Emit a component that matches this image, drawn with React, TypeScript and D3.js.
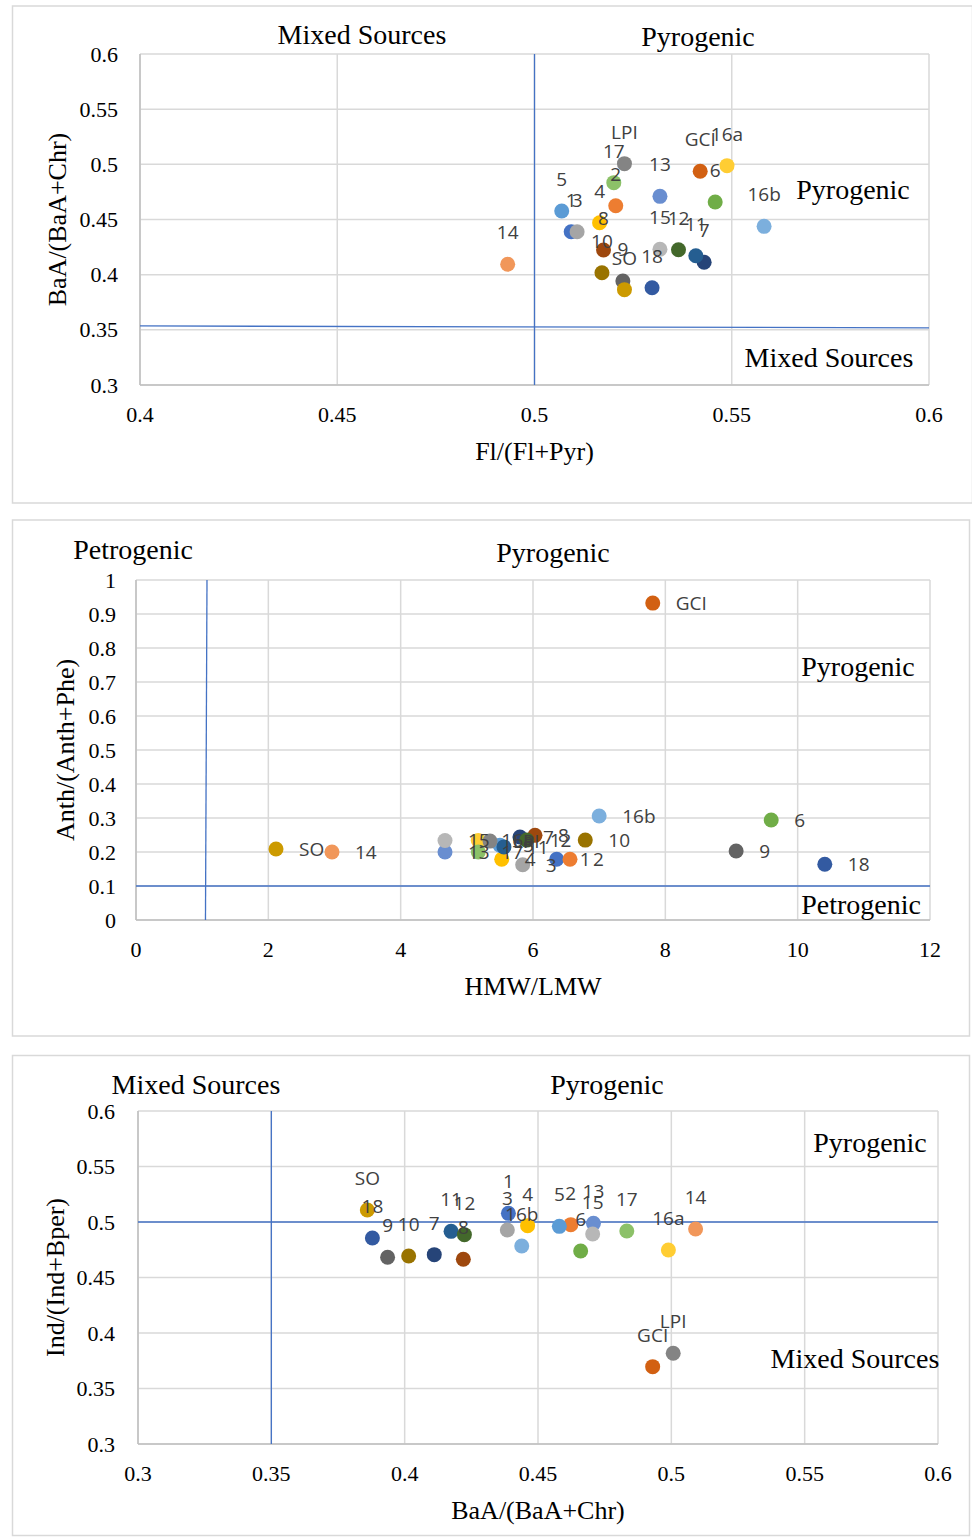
import React from 'react';
import * as d3 from 'd3';

const names = ['1','2','3','4','5','6','7','8','9','10','11','12','13','14','15','16a','16b','17','18','GCI','LPI','SO'];
const colors = ['#4472C4','#ED7D31','#A5A5A5','#FFC000','#5B9BD5','#70AD47','#264478','#9E480E','#636363','#997300','#255E91','#43682B','#698ED0','#F1975A','#B7B7B7','#FFCD33','#7CAFDD','#8CC168','#335AA1','#D26012','#848484','#CC9A00'];

// Panel 1: Fl/(Fl+Pyr) vs BaA/(BaA+Chr)
const flPyr = [0.5093,0.5206,0.5108,0.5165,0.5069,0.5458,0.5430,0.5175,0.5224,0.5171,0.5409,0.5365,0.5318,0.4932,0.5318,0.5488,0.5582,0.5201,0.5298,0.5420,0.5228,0.5228];
const baaChrA = [0.4389,0.4625,0.4389,0.4471,0.4577,0.4659,0.4112,0.4224,0.3943,0.4018,0.4172,0.4226,0.4710,0.4094,0.4230,0.4988,0.4438,0.4834,0.3882,0.4937,0.5006,0.3864];

// Panel 2: HMW/LMW vs Anth/(Anth+Phe)
const hmwLmw = [6.358,6.559,5.844,5.527,5.50,9.60,5.803,6.03,9.07,6.79,5.561,5.905,4.67,2.962,4.67,5.173,7.00,5.173,10.41,7.81,5.35,2.116];
const anthPhe = [0.1785,0.1785,0.1626,0.1785,0.22,0.294,0.244,0.249,0.203,0.235,0.215,0.235,0.20,0.20,0.234,0.234,0.306,0.20,0.164,0.932,0.232,0.209];

// Panel 3: BaA/(BaA+Chr) vs Ind/(Ind+Bper)
const baaChrB = [0.4389,0.4623,0.4385,0.4461,0.4580,0.4660,0.4111,0.4220,0.3936,0.4015,0.4174,0.4224,0.4708,0.5091,0.4705,0.4989,0.4439,0.4833,0.3879,0.4930,0.5007,0.3860];
const indBper = [0.5078,0.4976,0.4928,0.4967,0.4961,0.4739,0.4706,0.4664,0.4682,0.4694,0.4916,0.4886,0.4988,0.4937,0.4892,0.4748,0.4784,0.4919,0.4856,0.3697,0.3817,0.5108];

const ticks1X = [0.4,0.45,0.5,0.55,0.6];
const ticks1Y = [0.3,0.35,0.4,0.45,0.5,0.55,0.6];
const ticks2X = [0,2,4,6,8,10,12];
const ticks2Y = [0,0.1,0.2,0.3,0.4,0.5,0.6,0.7,0.8,0.9,1];
const ticks3X = [0.3,0.35,0.4,0.45,0.5,0.55,0.6];
const ticks3Y = [0.3,0.35,0.4,0.45,0.5,0.55,0.6];

// reference lines [x1,y1,x2,y2] in data units
const ref1 = [[0.5,0.3,0.5,0.6],[0.4,0.3535,0.6,0.3518]];
const ref2 = [[1.073,1,1.05,0],[0,0.1,12,0.1]];
const ref3 = [[0.35,0.3,0.35,0.6],[0.3,0.5,0.6,0.5]];

const SERIF = '"Liberation Serif", "Times New Roman", serif';
const SANS = '"Open Sans", "Noto Sans", sans-serif';

type Ann = { t: string; x: number; y: number };
type PanelProps = {
  frame: [number, number, number, number];
  plot: { l: number; t: number; r: number; b: number };
  xDomain: [number, number];
  yDomain: [number, number];
  xTicks: number[];
  yTicks: number[];
  xs: number[];
  ys: number[];
  refs: number[][];
  labelRight: boolean;
  anns: Ann[];
  xTitle: string;
  yTitle: string;
  yTitleX: number;
  yTickGap: number;
};

function Panel(p: PanelProps) {
  const x = d3.scaleLinear().domain(p.xDomain).range([p.plot.l, p.plot.r]);
  const y = d3.scaleLinear().domain(p.yDomain).range([p.plot.b, p.plot.t]);
  const [fx, fy, fw, fh] = p.frame;
  const midY = (p.plot.t + p.plot.b) / 2;
  const midX = (p.plot.l + p.plot.r) / 2;
  return (
    <g>
      <rect x={fx} y={fy} width={fw} height={fh} fill="#fff" stroke="#D9D9D9" strokeWidth={1.5} />
      {p.yTicks.map((t, i) => (
        <line key={'gy' + i} x1={p.plot.l} x2={p.plot.r} y1={y(t)} y2={y(t)} stroke="#D9D9D9" strokeWidth={1.5} />
      ))}
      {p.xTicks.map((t, i) => (
        <line key={'gx' + i} x1={x(t)} x2={x(t)} y1={p.plot.t} y2={p.plot.b} stroke="#D9D9D9" strokeWidth={1.5} />
      ))}
      <line x1={p.plot.l} x2={p.plot.l} y1={p.plot.t} y2={p.plot.b} stroke="#BFBFBF" strokeWidth={1.5} />
      <line x1={p.plot.l} x2={p.plot.r} y1={p.plot.b} y2={p.plot.b} stroke="#BFBFBF" strokeWidth={1.5} />
      {p.yTicks.map((t, i) => (
        <text key={'ty' + i} x={p.plot.l - p.yTickGap} y={y(t)} textAnchor="end" dominantBaseline="central" fontFamily={SERIF} fontSize={22} fill="#000">{String(t)}</text>
      ))}
      {p.xTicks.map((t, i) => (
        <text key={'tx' + i} x={x(t)} y={p.plot.b + 29} textAnchor="middle" dominantBaseline="central" fontFamily={SERIF} fontSize={22} fill="#000">{String(t)}</text>
      ))}
      <text x={midX} y={p.plot.b + 66} textAnchor="middle" dominantBaseline="central" fontFamily={SERIF} fontSize={26} fill="#000">{p.xTitle}</text>
      <text transform={`translate(${p.yTitleX},${midY}) rotate(-90)`} textAnchor="middle" dominantBaseline="central" fontFamily={SERIF} fontSize={26} fill="#000">{p.yTitle}</text>
      {p.refs.map((r, i) => (
        <line key={'r' + i} x1={x(r[0])} y1={y(r[1])} x2={x(r[2])} y2={y(r[3])} stroke="#4472C4" strokeWidth={1.3} />
      ))}
      {p.xs.map((v, i) => (
        <circle key={'c' + i} cx={x(v)} cy={y(p.ys[i])} r={7.5} fill={colors[i]} />
      ))}
      {p.xs.map((v, i) =>
        p.labelRight ? (
          <text key={'l' + i} x={x(v) + 23} y={y(p.ys[i])} textAnchor="start" dominantBaseline="central" fontFamily={SANS} fontSize={19} fill="#404040">{names[i]}</text>
        ) : (
          <text key={'l' + i} x={x(v)} y={y(p.ys[i]) - 32} textAnchor="middle" dominantBaseline="central" fontFamily={SANS} fontSize={19} fill="#404040">{names[i]}</text>
        )
      )}
      {p.anns.map((a, i) => (
        <text key={'a' + i} x={a.x} y={a.y} textAnchor="middle" dominantBaseline="central" fontFamily={SERIF} fontSize={28} fill="#000">{a.t}</text>
      ))}
    </g>
  );
}

export default function App() {
  return (
    <svg width={972} height={1539} style={{ position: 'absolute', left: 0, top: 0, background: '#fff' }}>
      <Panel
        frame={[12.5, 6, 960, 497]}
        plot={{ l: 140, t: 54, r: 929, b: 385 }}
        xDomain={[0.4, 0.6]}
        yDomain={[0.3, 0.6]}
        xTicks={ticks1X}
        yTicks={ticks1Y}
        xs={flPyr}
        ys={baaChrA}
        refs={ref1}
        labelRight={false}
        anns={[
          { t: 'Mixed Sources', x: 362, y: 34 },
          { t: 'Pyrogenic', x: 698, y: 36 },
          { t: 'Pyrogenic', x: 853, y: 189 },
          { t: 'Mixed Sources', x: 829, y: 357 },
        ]}
        xTitle="Fl/(Fl+Pyr)"
        yTitle="BaA/(BaA+Chr)"
        yTitleX={57}
        yTickGap={22}
      />
      <Panel
        frame={[12.5, 520, 957, 516]}
        plot={{ l: 136, t: 580, r: 930, b: 920 }}
        xDomain={[0, 12]}
        yDomain={[0, 1]}
        xTicks={ticks2X}
        yTicks={ticks2Y}
        xs={hmwLmw}
        ys={anthPhe}
        refs={ref2}
        labelRight={true}
        anns={[
          { t: 'Petrogenic', x: 133, y: 549 },
          { t: 'Pyrogenic', x: 553, y: 552 },
          { t: 'Pyrogenic', x: 858, y: 666 },
          { t: 'Petrogenic', x: 861, y: 904 },
        ]}
        xTitle="HMW/LMW"
        yTitle="Anth/(Anth+Phe)"
        yTitleX={65}
        yTickGap={20}
      />
      <Panel
        frame={[12.5, 1055.5, 957, 480]}
        plot={{ l: 138, t: 1111, r: 938, b: 1444 }}
        xDomain={[0.3, 0.6]}
        yDomain={[0.3, 0.6]}
        xTicks={ticks3X}
        yTicks={ticks3Y}
        xs={baaChrB}
        ys={indBper}
        refs={ref3}
        labelRight={false}
        anns={[
          { t: 'Mixed Sources', x: 196, y: 1084 },
          { t: 'Pyrogenic', x: 607, y: 1084 },
          { t: 'Pyrogenic', x: 870, y: 1142 },
          { t: 'Mixed Sources', x: 855, y: 1358 },
        ]}
        xTitle="BaA/(BaA+Chr)"
        yTitle="Ind/(Ind+Bper)"
        yTitleX={55}
        yTickGap={23}
      />
    </svg>
  );
}
